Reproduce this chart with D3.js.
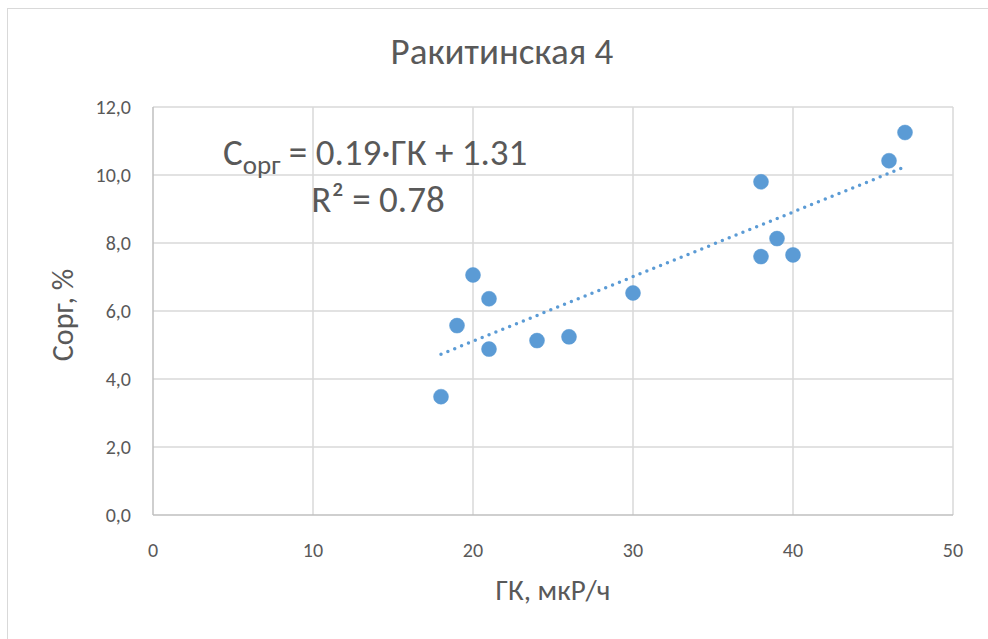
<!DOCTYPE html>
<html>
<head>
<meta charset="utf-8">
<script src="https://cdn.jsdelivr.net/npm/d3@7"></script>
<style>
  html, body { margin: 0; padding: 0; background: #fff; }
  text { font-family: Calibri, Carlito, "Open Sans", "Noto Sans", sans-serif; fill: #595959; }
</style>
</head>
<body>
<svg id="chart" width="988" height="639"></svg>
<script>
// Gamma-ray (ГК, мкР/ч) versus organic carbon (Сорг, %)
const gk   = [18, 19, 20, 21, 21, 24, 26, 30, 38, 38, 39, 40, 46, 47];
const corg = [3.48, 5.57, 7.06, 6.36, 4.88, 5.13, 5.24, 6.53, 9.80, 7.60, 8.13, 7.65, 10.42, 11.25];
const xTicks = [0, 10, 20, 30, 40, 50];
const yTicks = [0, 2, 4, 6, 8, 10, 12];
const slope = 0.19, intercept = 1.31, r2 = 0.78;

const svg = d3.select("#chart");

// outer chart frame
svg.append("rect").attr("x", 7.5).attr("y", 8.5).attr("width", 990).attr("height", 640)
  .attr("fill", "none").attr("stroke", "#d9d9d9").attr("stroke-width", 1);

const x = d3.scaleLinear().domain([0, 50]).range([153, 953]);
const y = d3.scaleLinear().domain([0, 12]).range([515, 107]);

// gridlines
svg.append("g").selectAll("line.v").data(xTicks.slice(1)).join("line")
  .attr("x1", d => x(d)).attr("x2", d => x(d)).attr("y1", y(0)).attr("y2", y(12))
  .attr("stroke", "#d9d9d9").attr("stroke-width", 1.5);
svg.append("g").selectAll("line.h").data(yTicks.slice(1)).join("line")
  .attr("x1", x(0)).attr("x2", x(50)).attr("y1", d => y(d)).attr("y2", d => y(d))
  .attr("stroke", "#d9d9d9").attr("stroke-width", 1.5);

// axes lines
svg.append("line").attr("x1", x(0)).attr("x2", x(50)).attr("y1", y(0)).attr("y2", y(0))
  .attr("stroke", "#bfbfbf").attr("stroke-width", 1.5);
svg.append("line").attr("x1", x(0)).attr("x2", x(0)).attr("y1", y(0)).attr("y2", y(12))
  .attr("stroke", "#bfbfbf").attr("stroke-width", 1.5);

// tick labels
const fmt = d => d.toFixed(1).replace(".", ",");
svg.append("g").selectAll("text").data(yTicks).join("text")
  .attr("x", 131).attr("y", d => y(d) + 7).attr("text-anchor", "end")
  .style("font-size", "20px").text(fmt);
svg.append("g").selectAll("text").data(xTicks).join("text")
  .attr("x", d => x(d)).attr("y", 557).attr("text-anchor", "middle")
  .style("font-size", "20px").text(d => d);

// trendline
svg.append("line")
  .attr("x1", x(d3.min(gk))).attr("y1", y(slope * d3.min(gk) + intercept))
  .attr("x2", x(d3.max(gk))).attr("y2", y(slope * d3.max(gk) + intercept))
  .attr("stroke", "#5b9bd5").attr("stroke-width", 3.5)
  .attr("stroke-linecap", "round").attr("stroke-dasharray", "0 7.4");

// points
svg.append("g").selectAll("circle").data(gk.map((g, i) => [g, corg[i]])).join("circle")
  .attr("cx", d => x(d[0])).attr("cy", d => y(d[1])).attr("r", 7.5)
  .attr("fill", "#5b9bd5").attr("stroke", "#5b9bd5").attr("stroke-width", 0.5);

// title
svg.append("text").attr("x", 502).attr("y", 64).attr("text-anchor", "middle")
  .style("font-size", "37px").text("Ракитинская 4");

// axis titles
svg.append("text").attr("x", 553).attr("y", 600).attr("text-anchor", "middle")
  .style("font-size", "29px").text("ГК, мкР/ч");
svg.append("text").attr("transform", "translate(73,315) rotate(-90)").attr("text-anchor", "middle")
  .style("font-size", "30px").text("Сорг, %");

// regression equation
const eq = svg.append("text").attr("x", 223).attr("y", 165).style("font-size", "37px");
eq.append("tspan").text("C");
eq.append("tspan").attr("dy", 9).style("font-size", "27px").text("орг");
eq.append("tspan").attr("dy", -9).text(` = ${slope.toFixed(2)}·ГК + ${intercept.toFixed(2)}`);
svg.append("text").attr("x", 378).attr("y", 212).attr("text-anchor", "middle")
  .style("font-size", "37px").text(`R² = ${r2.toFixed(2)}`);
</script>
</body>
</html>
